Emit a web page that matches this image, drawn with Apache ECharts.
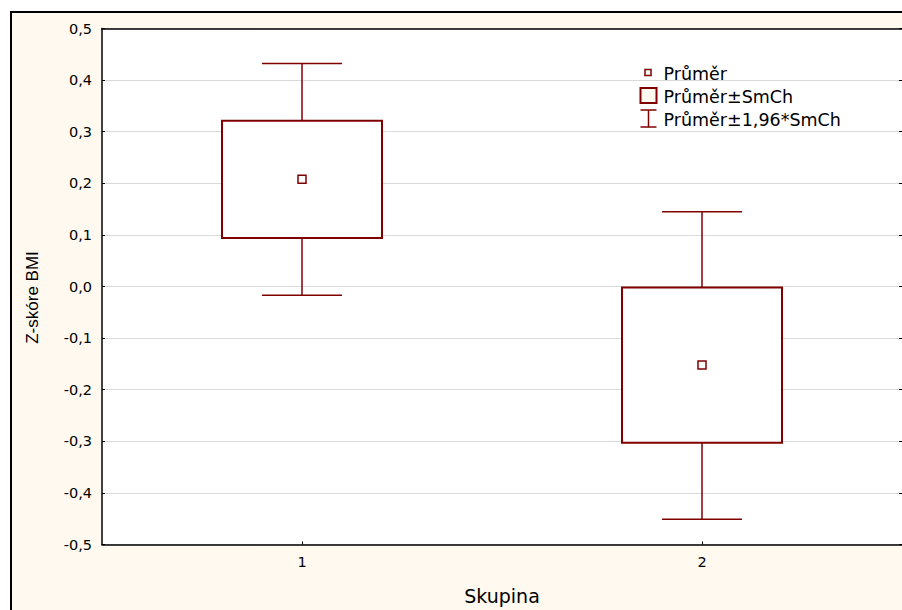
<!DOCTYPE html>
<html>
<head>
<meta charset="utf-8">
<title>Z-skóre BMI podle skupiny</title>
<script src="https://cdn.jsdelivr.net/npm/echarts@6/dist/echarts.min.js"></script>
<style>
  html, body { margin: 0; padding: 0; background: #ffffff; }
  #chart { width: 902px; height: 610px; }
</style>
</head>
<body>
<div id="chart"></div>
<script>
// Skupiny a souhrnné statistiky Z-skóre BMI
const categories = ['1', '2'];
const means = [0.208, -0.152];          // Průměr
const seLow = [0.094, -0.303];          // Průměr - SmCh
const seHigh = [0.321, -0.002];         // Průměr + SmCh
const ciLow = [-0.017, -0.451];         // Průměr - 1,96*SmCh
const ciHigh = [0.432, 0.145];          // Průměr + 1,96*SmCh
const yTicks = [-0.5, -0.4, -0.3, -0.2, -0.1, 0.0, 0.1, 0.2, 0.3, 0.4, 0.5];

const legendNames = ['Průměr', 'Průměr±SmCh', 'Průměr±1,96*SmCh'];

const RED = '#800000';
const FONT = '"DejaVu Sans", "Liberation Sans", Arial, sans-serif';
const FONT_NARROW = '"Liberation Sans", Arial, sans-serif';
const CREAM = '#FFF9EF';

const chart = echarts.init(document.getElementById('chart'), null, { renderer: 'svg' });

function fmt(v) {
  return (Math.round(v * 10) / 10).toFixed(1).replace('.', ',');
}

const yMin = yTicks[0];
const yMax = yTicks[yTicks.length - 1];
const yStep = Math.round((yTicks[1] - yTicks[0]) * 10) / 10;

const option = {
  backgroundColor: '#ffffff',
  animation: false,
  textStyle: { fontFamily: FONT },
  graphic: [
    {
      type: 'rect',
      z: -100,
      silent: true,
      shape: { x: 11, y: 12, width: 1000, height: 1000 },
      style: { fill: CREAM, stroke: '#000', lineWidth: 2 }
    },
    {
      type: 'group',
      left: 638,
      top: 65,
      z: 100,
      children: [
        // Průměr
        { type: 'rect', shape: { x: 4.5, y: 4.5, width: 6, height: 6 },
          style: { fill: '#fff', stroke: RED, lineWidth: 1.5 } },
        { type: 'text', x: 23, y: 9, style: { text: legendNames[0], font: '17.5px ' + FONT, fill: '#000', textVerticalAlign: 'middle' } },
        // Průměr±SmCh
        { type: 'rect', shape: { x: 0, y: 23, width: 16, height: 15 },
          style: { fill: CREAM, stroke: RED, lineWidth: 2 } },
        { type: 'text', x: 23, y: 32, style: { text: legendNames[1], font: '17.5px ' + FONT, fill: '#000', textVerticalAlign: 'middle' } },
        // Průměr±1,96*SmCh
        { type: 'line', shape: { x1: 0, y1: 45, x2: 16, y2: 45 }, style: { stroke: RED, lineWidth: 1.5 } },
        { type: 'line', shape: { x1: 8, y1: 45, x2: 8, y2: 62 }, style: { stroke: RED, lineWidth: 1.5 } },
        { type: 'line', shape: { x1: 0, y1: 62, x2: 16, y2: 62 }, style: { stroke: RED, lineWidth: 1.5 } },
        { type: 'text', x: 23, y: 55, style: { text: legendNames[2], font: '17.5px ' + FONT, fill: '#000', textVerticalAlign: 'middle' } }
      ]
    }
  ],
  grid: {
    left: 102,
    right: 0,
    top: 28.5,
    bottom: 65.5,
    outerBoundsMode: 'none',
    containLabel: false,
    show: true,
    backgroundColor: '#ffffff',
    borderWidth: 0
  },
  xAxis: [
    {
      type: 'category',
      data: categories,
      name: 'Skupina',
      nameLocation: 'middle',
      nameGap: 42,
      nameTextStyle: { fontSize: 19, color: '#000', fontFamily: FONT },
      axisLine: { onZero: false, lineStyle: { color: '#000', width: 1.5 } },
      axisTick: { show: true, inside: true, length: 3, alignWithLabel: true, lineStyle: { color: '#000' } },
      axisLabel: { fontSize: 14.5, color: '#000', margin: 10, fontFamily: FONT },
      splitLine: { show: false }
    },
    {
      type: 'category',
      data: categories,
      position: 'top',
      axisLine: { show: true, onZero: false, lineStyle: { color: '#000', width: 1.5 } },
      axisTick: { show: false },
      axisLabel: { show: false },
      splitLine: { show: false }
    }
  ],
  yAxis: [
    {
      type: 'value',
      min: yMin,
      max: yMax,
      interval: yStep,
      name: 'Z-skóre BMI',
      nameLocation: 'middle',
      nameGap: 61,
      nameRotate: 90,
      nameTextStyle: { fontSize: 17, color: '#000', fontFamily: FONT_NARROW, padding: [0, 22, 0, 0] },
      axisLine: { show: true, onZero: false, lineStyle: { color: '#000', width: 1.5 } },
      axisTick: { show: true, inside: true, length: 3, lineStyle: { color: '#000' } },
      axisLabel: {
        fontSize: 14.5, color: '#000', margin: 10, fontFamily: FONT,
        formatter: function (v) { return fmt(v); }
      },
      splitLine: { show: true, lineStyle: { color: '#d9d9d9', width: 1 } }
    },
    {
      type: 'value',
      position: 'right',
      min: yMin,
      max: yMax,
      interval: yStep,
      axisLine: { show: false },
      axisTick: { show: true, inside: true, length: 3, lineStyle: { color: '#000' } },
      axisLabel: { show: false },
      splitLine: { show: false }
    }
  ],
  series: [
    {
      name: legendNames[2],
      type: 'custom',
      z: 2,
      data: categories.map(function (c, i) { return [i, ciLow[i], ciHigh[i]]; }),
      renderItem: function (params, api) {
        const x = api.value(0);
        const lo = api.coord([x, api.value(1)]);
        const hi = api.coord([x, api.value(2)]);
        const band = api.size([1, 0])[0];
        const half = band * 0.1;
        const style = { stroke: RED, lineWidth: 1.5, fill: null };
        return {
          type: 'group',
          children: [
            { type: 'line', shape: { x1: lo[0], y1: lo[1], x2: hi[0], y2: hi[1] }, style: style },
            { type: 'line', shape: { x1: hi[0] - half, y1: hi[1], x2: hi[0] + half, y2: hi[1] }, style: style },
            { type: 'line', shape: { x1: lo[0] - half, y1: lo[1], x2: lo[0] + half, y2: lo[1] }, style: style }
          ]
        };
      }
    },
    {
      name: legendNames[1],
      type: 'custom',
      z: 3,
      data: categories.map(function (c, i) { return [i, seLow[i], seHigh[i]]; }),
      renderItem: function (params, api) {
        const x = api.value(0);
        const lo = api.coord([x, api.value(1)]);
        const hi = api.coord([x, api.value(2)]);
        const band = api.size([1, 0])[0];
        const half = band * 0.2;
        return {
          type: 'rect',
          shape: { x: lo[0] - half, y: hi[1], width: half * 2, height: lo[1] - hi[1] },
          style: { fill: '#ffffff', stroke: RED, lineWidth: 2 }
        };
      }
    },
    {
      name: legendNames[0],
      type: 'scatter',
      z: 4,
      symbol: 'rect',
      symbolSize: 8,
      data: categories.map(function (c, i) { return [i, means[i]]; }),
      itemStyle: { color: '#ffffff', borderColor: RED, borderWidth: 1.5, opacity: 1 }
    }
  ]
};

chart.setOption(option);
</script>
</body>
</html>
